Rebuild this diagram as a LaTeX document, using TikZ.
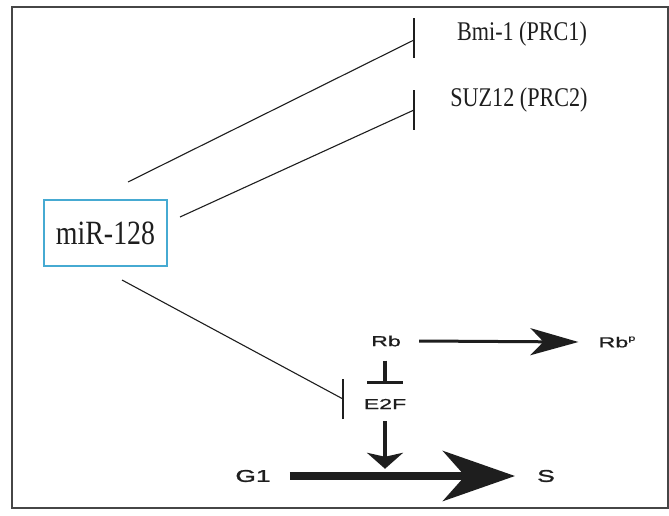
\documentclass[tikz,border=0pt]{standalone}
\usepackage{fontspec}
\usetikzlibrary{arrows.meta}
\newfontfamily\serifn[FakeStretch=0.82]{Liberation Serif}
\newfontfamily\sansw[FakeStretch=1.6,FakeBold=0.8]{Liberation Sans}
\newfontfamily\sanswb[FakeStretch=1.55,FakeBold=1.5]{Liberation Sans}
\definecolor{boxblue}{RGB}{70,170,210}
\definecolor{framegray}{RGB}{70,70,70}
\definecolor{ink}{RGB}{30,30,30}
\tikzset{
  serlabel/.style={font=\serifn\fontsize{27}{30}\selectfont, text=ink, inner sep=0pt},
  sanlabel/.style={font=\sansw\fontsize{14.5}{16}\selectfont, text=ink, inner sep=0pt},
  phaselabel/.style={font=\sanswb\fontsize{17}{19}\selectfont, text=ink, inner sep=0pt},
  mirbox/.style={draw=boxblue, line width=1.4pt, minimum width=123pt, minimum height=66pt,
    inner sep=0pt, font=\serifn\fontsize{34}{36}\selectfont, text=ink},
  thinline/.style={draw=ink, line width=1.1pt},
  inhibbar/.style={draw=ink, line width=1.6pt},
  frame/.style={draw=framegray, line width=2.5pt},
}
\begin{document}
\begin{tikzpicture}[x=1pt,y=-1pt]
  \useasboundingbox (0,0) rectangle (669,516);
  \fill[white] (0,0) rectangle (669,516);
  \draw[frame] (12,7) rectangle (668,508);

  % labels
  \node[mirbox] (mir) at (105.5,233) {miR-128};
  \node[serlabel] (bmi) at (522,34) {Bmi-1 (PRC1)};
  \node[serlabel] (suz) at (519,100) {SUZ12 (PRC2)};
  \node[sanlabel] (rb) at (386,341) {Rb};
  \node[sanlabel] (rbp) at (617,342) {Rb\raisebox{0.45em}{\fontsize{8}{9}\selectfont p}};
  \node[sanlabel] (e2f) at (385,404) {E2F};
  \node[phaselabel] (g1) at (253,476) {G1};
  \node[phaselabel] (s) at (546,476) {S};

  % free ends of the miR-128 inhibition lines
  \coordinate (m1) at (128,182);
  \coordinate (m2) at (180,217);
  \coordinate (m3) at (122,280);
  \coordinate (b1) at (414,40);
  \coordinate (b2) at (414,110);
  \coordinate (b3) at (343,399);

  % miR-128 inhibits Bmi-1, SUZ12 and E2F
  \draw[thinline] (m1) -- (b1);
  \draw[inhibbar] ([yshift=-18pt]b1) -- ([yshift=22pt]b1);
  \draw[thinline] (m2) -- (b2);
  \draw[inhibbar] ([yshift=-20pt]b2) -- ([yshift=20pt]b2);
  \draw[thinline] (m3) -- (b3);
  \draw[inhibbar] ([yshift=-20pt]b3) -- ([yshift=20pt]b3);

  % Rb phosphorylation
  \draw[line width=3pt, ink, -{Stealth[length=48pt,width=27pt,inset=13pt]}]
    ([xshift=18pt]rb.east) -- ([xshift=-20pt]rbp.west);

  % Rb inhibits E2F
  \draw[line width=4pt, ink] ([yshift=-14pt]e2f.north |- rb.south) -- ([yshift=16pt]e2f.north);
  \draw[line width=3.5pt, ink] ([xshift=-18pt,yshift=16pt]e2f.north) -- ([xshift=18pt,yshift=16pt]e2f.north);

  % E2F drives G1 to S
  \draw[line width=4pt, ink, -{Stealth[length=16pt,width=36pt,inset=4pt]}]
    ([yshift=-12pt]e2f.south) -- ([yshift=1pt]e2f.south |- g1.north);
  \draw[line width=8pt, ink, -{Stealth[length=72pt,width=50pt,inset=22pt]}]
    ([xshift=19pt]g1.east) -- ([xshift=-22pt]s.west);
\end{tikzpicture}
\end{document}
